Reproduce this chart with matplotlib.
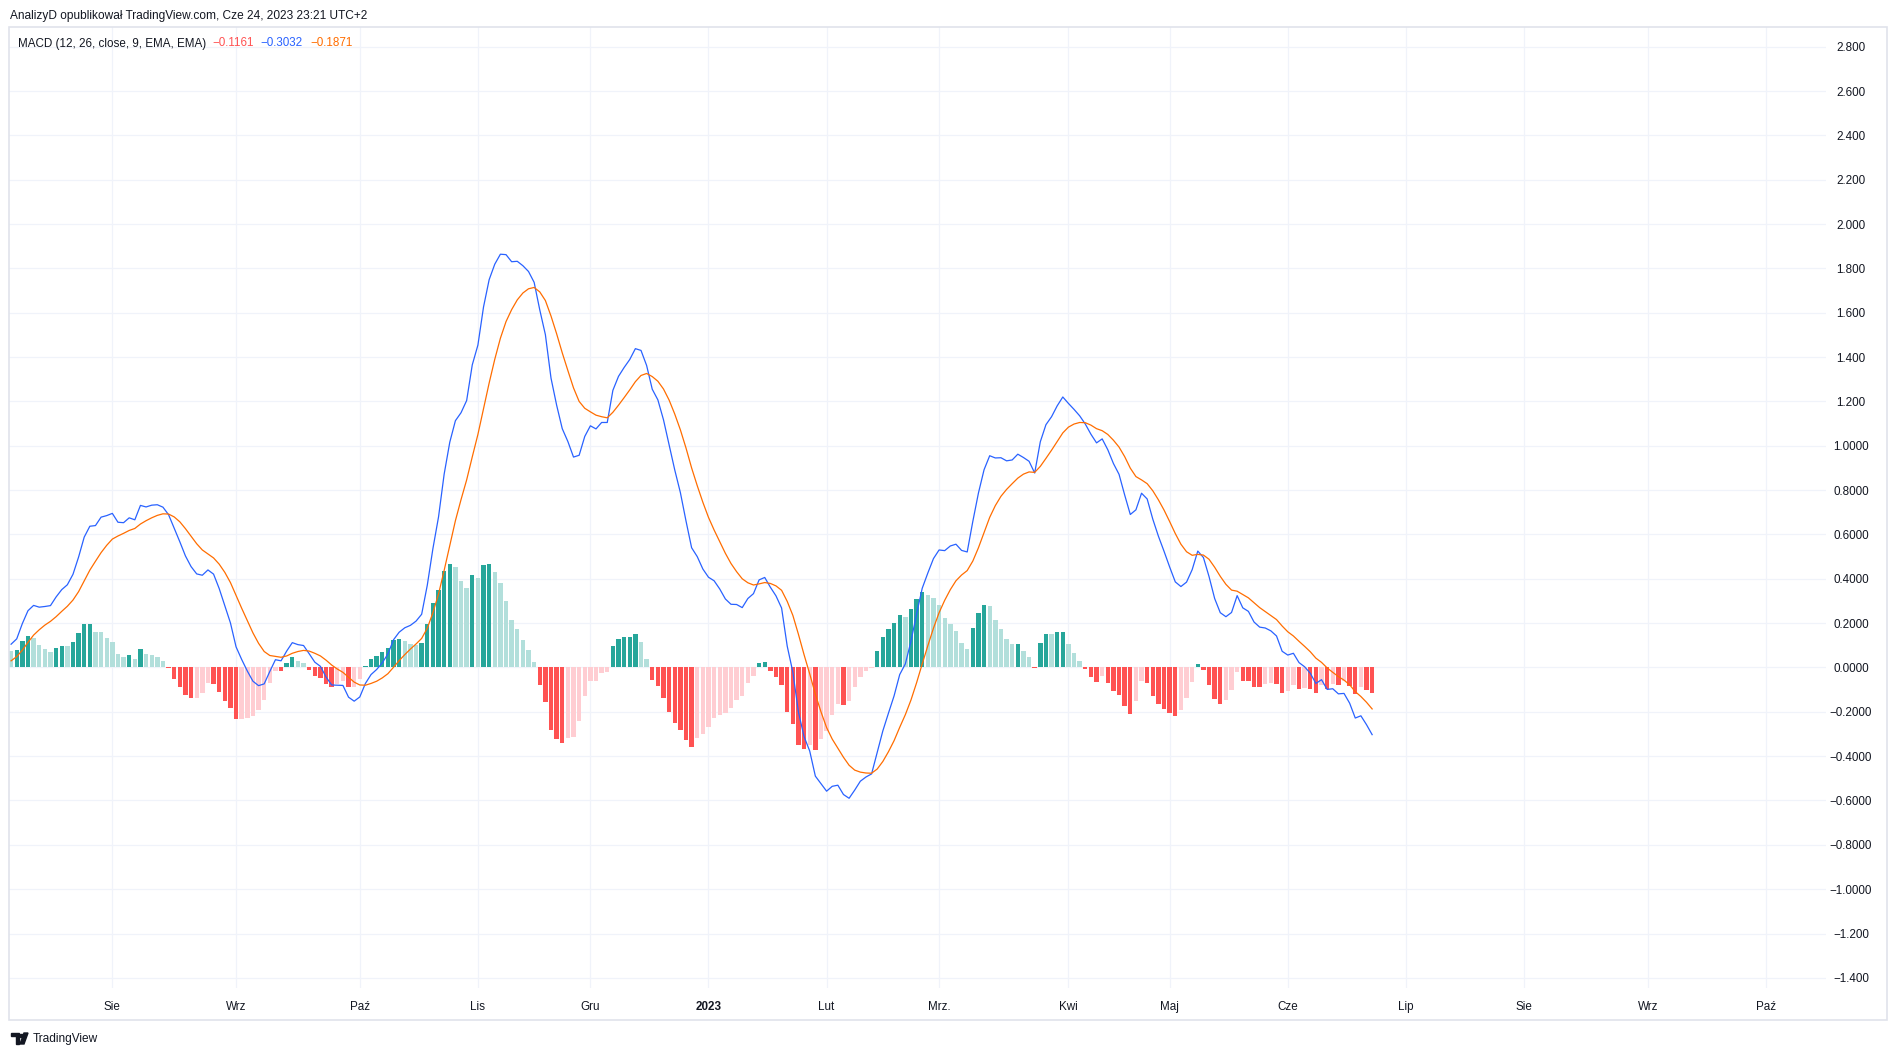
import numpy as np
import matplotlib
matplotlib.use("Agg")
import matplotlib.pyplot as plt
from matplotlib.patches import Rectangle, Polygon

# ---------------- data ----------------
hist = [
    0.075, 0.080, 0.120, 0.143, 0.134, 0.102, 0.084, 0.071, 0.089, 0.098,
    0.097, 0.116, 0.156, 0.197, 0.198, 0.161, 0.160, 0.134, 0.116, 0.062,
    0.048, 0.057, 0.039, 0.084, 0.062, 0.057, 0.048, 0.030, -0.003, -0.051,
    -0.090, -0.123, -0.137, -0.136, -0.114, -0.072, -0.073, -0.110, -0.150, -0.182,
    -0.232, -0.231, -0.227, -0.218, -0.191, -0.146, -0.072, -0.015, -0.016, 0.022,
    0.048, 0.031, 0.022, -0.012, -0.040, -0.047, -0.076, -0.090, -0.073, -0.059,
    -0.090, -0.086, -0.054, 0.008, 0.040, 0.053, 0.068, 0.089, 0.124, 0.128,
    0.121, 0.107, 0.103, 0.109, 0.194, 0.289, 0.348, 0.434, 0.465, 0.451,
    0.392, 0.358, 0.415, 0.403, 0.460, 0.466, 0.429, 0.379, 0.302, 0.216,
    0.174, 0.123, 0.078, 0.023, -0.081, -0.154, -0.280, -0.322, -0.342, -0.320,
    -0.312, -0.243, -0.127, -0.063, -0.062, -0.026, -0.021, 0.099, 0.130, 0.136,
    0.137, 0.149, 0.113, 0.036, -0.057, -0.084, -0.139, -0.202, -0.252, -0.283,
    -0.329, -0.360, -0.320, -0.301, -0.270, -0.229, -0.213, -0.206, -0.184, -0.148,
    -0.130, -0.071, -0.039, 0.018, 0.023, -0.017, -0.045, -0.080, -0.202, -0.256,
    -0.351, -0.369, -0.348, -0.370, -0.324, -0.287, -0.213, -0.167, -0.168, -0.149,
    -0.090, -0.041, -0.018, -0.003, 0.075, 0.138, 0.174, 0.202, 0.238, 0.229,
    0.265, 0.310, 0.341, 0.328, 0.314, 0.283, 0.224, 0.197, 0.165, 0.111,
    0.084, 0.179, 0.247, 0.283, 0.278, 0.215, 0.174, 0.129, 0.107, 0.108,
    0.075, 0.048, -0.003, 0.111, 0.152, 0.151, 0.161, 0.162, 0.107, 0.066,
    0.030, -0.006, -0.041, -0.064, -0.037, -0.069, -0.105, -0.123, -0.173, -0.209,
    -0.150, -0.060, -0.069, -0.128, -0.164, -0.186, -0.205, -0.218, -0.191, -0.137,
    -0.065, 0.015, -0.011, -0.078, -0.141, -0.164, -0.146, -0.101, -0.020, -0.060,
    -0.061, -0.087, -0.088, -0.074, -0.069, -0.074, -0.114, -0.105, -0.078, -0.096,
    -0.092, -0.097, -0.114, -0.078, -0.097, -0.074, -0.078, -0.060, -0.083, -0.119,
    -0.087, -0.101, -0.116,
]

macd = [
    0.105, 0.129, 0.198, 0.256, 0.280, 0.272, 0.275, 0.279, 0.318, 0.351,
    0.373, 0.420, 0.498, 0.588, 0.637, 0.640, 0.678, 0.685, 0.695, 0.655,
    0.653, 0.675, 0.666, 0.731, 0.724, 0.732, 0.734, 0.723, 0.689, 0.628,
    0.567, 0.503, 0.455, 0.422, 0.416, 0.440, 0.421, 0.356, 0.279, 0.201,
    0.093, 0.036, -0.016, -0.062, -0.082, -0.074, -0.018, 0.035, 0.030, 0.074,
    0.112, 0.103, 0.099, 0.062, 0.024, 0.005, -0.043, -0.079, -0.080, -0.081,
    -0.134, -0.152, -0.133, -0.072, -0.032, -0.009, 0.021, 0.061, 0.125, 0.159,
    0.179, 0.190, 0.209, 0.240, 0.371, 0.536, 0.679, 0.872, 1.016, 1.113,
    1.149, 1.204, 1.365, 1.454, 1.626, 1.749, 1.819, 1.864, 1.862, 1.830,
    1.832, 1.812, 1.786, 1.737, 1.613, 1.501, 1.305, 1.183, 1.077, 1.019,
    0.949, 0.957, 1.042, 1.090, 1.076, 1.105, 1.105, 1.250, 1.313, 1.353,
    1.389, 1.438, 1.430, 1.362, 1.255, 1.207, 1.117, 1.004, 0.891, 0.789,
    0.661, 0.540, 0.500, 0.444, 0.407, 0.391, 0.354, 0.309, 0.285, 0.284,
    0.270, 0.311, 0.333, 0.395, 0.406, 0.362, 0.323, 0.268, 0.096, -0.021,
    -0.202, -0.312, -0.377, -0.490, -0.524, -0.558, -0.536, -0.531, -0.573, -0.590,
    -0.553, -0.513, -0.494, -0.480, -0.383, -0.286, -0.206, -0.128, -0.032, 0.016,
    0.118, 0.241, 0.357, 0.426, 0.491, 0.530, 0.527, 0.548, 0.556, 0.528,
    0.521, 0.659, 0.787, 0.892, 0.955, 0.945, 0.946, 0.932, 0.936, 0.962,
    0.947, 0.930, 0.877, 1.018, 1.095, 1.131, 1.180, 1.220, 1.191, 1.164,
    1.135, 1.098, 1.052, 1.013, 1.031, 0.982, 0.920, 0.871, 0.778, 0.690,
    0.711, 0.786, 0.760, 0.669, 0.592, 0.524, 0.453, 0.386, 0.365, 0.385,
    0.441, 0.525, 0.496, 0.410, 0.311, 0.247, 0.229, 0.248, 0.324, 0.269,
    0.253, 0.205, 0.182, 0.178, 0.165, 0.142, 0.073, 0.056, 0.064, 0.022,
    0.003, -0.026, -0.072, -0.055, -0.099, -0.096, -0.119, -0.117, -0.161, -0.228,
    -0.218, -0.258, -0.303,
]

signal = [
    0.030, 0.049, 0.078, 0.113, 0.146, 0.170, 0.191, 0.208, 0.229, 0.253,
    0.276, 0.304, 0.342, 0.391, 0.439, 0.479, 0.518, 0.551, 0.579, 0.593,
    0.605, 0.618, 0.627, 0.647, 0.662, 0.675, 0.686, 0.693, 0.692, 0.679,
    0.657, 0.626, 0.592, 0.558, 0.530, 0.512, 0.494, 0.466, 0.429, 0.383,
    0.325, 0.267, 0.211, 0.156, 0.109, 0.072, 0.054, 0.050, 0.046, 0.052,
    0.064, 0.072, 0.077, 0.074, 0.064, 0.052, 0.033, 0.011, -0.007, -0.022,
    -0.044, -0.066, -0.079, -0.080, -0.072, -0.062, -0.047, -0.028, 0.001, 0.031,
    0.058, 0.083, 0.106, 0.131, 0.177, 0.247, 0.331, 0.438, 0.551, 0.662,
    0.757, 0.846, 0.950, 1.051, 1.166, 1.283, 1.390, 1.485, 1.560, 1.614,
    1.658, 1.689, 1.708, 1.714, 1.694, 1.655, 1.585, 1.505, 1.419, 1.339,
    1.261, 1.200, 1.169, 1.153, 1.138, 1.131, 1.126, 1.151, 1.183, 1.217,
    1.252, 1.289, 1.317, 1.326, 1.312, 1.291, 1.256, 1.206, 1.143, 1.072,
    0.990, 0.900, 0.820, 0.745, 0.677, 0.620, 0.567, 0.515, 0.469, 0.432,
    0.400, 0.382, 0.372, 0.377, 0.383, 0.379, 0.368, 0.348, 0.298, 0.235,
    0.149, 0.057, -0.029, -0.120, -0.200, -0.271, -0.323, -0.364, -0.405, -0.441,
    -0.463, -0.472, -0.476, -0.477, -0.458, -0.424, -0.380, -0.330, -0.270, -0.213,
    -0.147, -0.069, 0.016, 0.098, 0.177, 0.247, 0.303, 0.351, 0.391, 0.417,
    0.437, 0.480, 0.540, 0.609, 0.677, 0.730, 0.772, 0.803, 0.829, 0.854,
    0.872, 0.882, 0.880, 0.907, 0.943, 0.980, 1.019, 1.058, 1.084, 1.098,
    1.105, 1.104, 1.093, 1.077, 1.068, 1.051, 1.025, 0.994, 0.951, 0.899,
    0.861, 0.846, 0.829, 0.797, 0.756, 0.710, 0.658, 0.604, 0.556, 0.522,
    0.506, 0.510, 0.507, 0.488, 0.452, 0.411, 0.375, 0.349, 0.344, 0.329,
    0.314, 0.292, 0.270, 0.252, 0.234, 0.216, 0.187, 0.161, 0.142, 0.118,
    0.095, 0.071, 0.042, 0.023, -0.002, -0.022, -0.041, -0.057, -0.078, -0.109,
    -0.131, -0.157, -0.187,
]

month_pos = [18, 40, 62, 83, 103, 124, 145, 165, 188, 206, 227, 248, 269, 291, 312]
month_labels = ["Sie", "Wrz", "Paź", "Lis", "Gru", "2023", "Lut", "Mrz.", "Kwi",
                "Maj", "Cze", "Lip", "Sie", "Wrz", "Paź"]

y_ticks = [2.8, 2.6, 2.4, 2.2, 2.0, 1.8, 1.6, 1.4, 1.2, 1.0, 0.8, 0.6, 0.4, 0.2,
           0.0, -0.2, -0.4, -0.6, -0.8, -1.0, -1.2, -1.4]
y_labels = ["2.800", "2.600", "2.400", "2.200", "2.000", "1.800", "1.600", "1.400",
            "1.200", "1.0000", "0.8000", "0.6000", "0.4000", "0.2000", "0.0000",
            "\u22120.2000", "\u22120.4000", "\u22120.6000", "\u22120.8000",
            "\u22121.0000", "\u22121.200", "\u22121.400"]

legend_title = "MACD (12, 26, close, 9, EMA, EMA)"
legend_values = ["\u22120.1161", "\u22120.3032", "\u22120.1871"]
header = "AnalizyD opublikował TradingView.com, Cze 24, 2023 23:21 UTC+2"

# ---------------- styling ----------------
FONT = ["Liberation Sans", "DejaVu Sans"]
plt.rcParams["font.family"] = FONT
TXT = "#131722"
GRID = "#F0F3FA"
FRAME = "#E0E3EB"
C_UP_STRONG, C_UP_WEAK = "#26A69A", "#B2DFDB"
C_DN_STRONG, C_DN_WEAK = "#FF5252", "#FFCDD2"
C_MACD, C_SIG = "#2962FF", "#FF6D00"

W, H = 1897, 1056
fig = plt.figure(figsize=(W / 100, H / 100), dpi=100)
fig.patch.set_facecolor("white")

L, R, T, B = 9, 1826, 26.5, 988
ax = fig.add_axes([L / W, 1 - B / H, (R - L) / W, (B - T) / H])
ax.set_facecolor("white")

h = np.array(hist)
n = len(h)
x = np.arange(n)
prev = np.r_[h[0], h[:-1]]
rising = h > prev
colors = np.where(h >= 0,
                  np.where(rising, C_UP_STRONG, C_UP_WEAK),
                  np.where(rising, C_DN_WEAK, C_DN_STRONG))

ax.bar(x, h, width=0.78, color=colors, linewidth=0, zorder=2)
ax.plot(x, macd, color=C_MACD, lw=0.9, zorder=3, solid_joinstyle="round")
ax.plot(x, signal, color=C_SIG, lw=0.9, zorder=4, solid_joinstyle="round")

ax.set_xlim(-0.373, 322.7)
ax.set_ylim(-1.4457, 2.891)

ax.set_xticks(month_pos)
ax.set_xticklabels(month_labels)
ax.set_yticks(y_ticks)
ax.set_yticklabels(y_labels)
ax.yaxis.tick_right()
ax.tick_params(axis="y", length=0, pad=18, labelsize=8.4, labelcolor=TXT)
ax.tick_params(axis="x", length=0, pad=9.5, labelsize=8.4, labelcolor=TXT)
for lbl in ax.get_yticklabels():
    lbl.set_horizontalalignment("center")
for lbl in ax.get_xticklabels():
    if lbl.get_text() == "2023":
        lbl.set_fontweight("bold")

ax.grid(True, color=GRID, lw=0.9, zorder=0)
ax.set_axisbelow(True)
for s in ax.spines.values():
    s.set_visible(False)


def px2fig(xp, yp):
    return xp / W, 1 - yp / H


# outer frame of the chart
x0, y0 = px2fig(9, 1020)
x1, y1 = px2fig(1887, 26.5)
fig.add_artist(Rectangle((x0, y0), x1 - x0, y1 - y0, transform=fig.transFigure,
                         fill=False, edgecolor=FRAME, lw=1.2))

# header and legend texts
fig.text(10 / W, 1 - 16 / H, header, fontsize=8.6, color=TXT, va="center", ha="left")
fig.text(18 / W, 1 - 43.5 / H, legend_title, fontsize=8.4, color=TXT, va="center", ha="left")
for xp, val, col in zip([212, 260, 310], legend_values, [C_DN_STRONG, C_MACD, C_SIG]):
    fig.text(xp / W, 1 - 43.5 / H, val, fontsize=8.4, color=col, va="center", ha="left")

# TradingView logo at bottom
lx, ly = 11, 1033
logo1 = Polygon([px2fig(lx, ly), px2fig(lx + 8, ly), px2fig(lx + 8, ly + 11),
                 px2fig(lx + 5, ly + 11), px2fig(lx + 5, ly + 3), px2fig(lx, ly + 3)],
                closed=True, transform=fig.transFigure, color="#131722")
logo2 = Polygon([px2fig(lx + 13, ly), px2fig(lx + 17, ly), px2fig(lx + 13, ly + 11),
                 px2fig(lx + 9, ly + 11)],
                closed=True, transform=fig.transFigure, color="#131722")
fig.add_artist(logo1)
fig.add_artist(logo2)
fig.add_artist(Rectangle(px2fig(lx + 9, ly + 3.5), 2.6 / W, 2.6 / H,
                         transform=fig.transFigure, color="#131722"))
fig.text(33 / W, 1 - 1039 / H, "TradingView", fontsize=8.6, color=TXT,
         va="center", ha="left")

fig.savefig("out.png", dpi=100, facecolor="white")
